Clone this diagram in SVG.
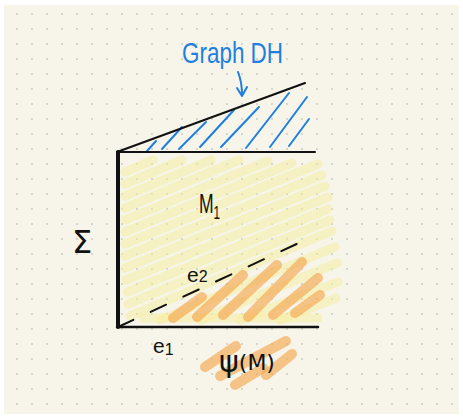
<svg xmlns="http://www.w3.org/2000/svg" width="463" height="418" viewBox="0 0 463 418">
  <defs>
    <pattern id="dots" x="10" y="7" width="15" height="15" patternUnits="userSpaceOnUse">
      <circle cx="7" cy="7" r="0.9" fill="#c8c6bb"/>
    </pattern>
    <style>
      .yel { stroke: #f6ee9c; stroke-opacity: 0.5; stroke-width: 9; stroke-linecap: round; fill: none; }
      .org { stroke: #f5a850; stroke-opacity: 0.65; stroke-width: 10; stroke-linecap: round; fill: none; }
      .blue { stroke: #1e7fe0; stroke-width: 2; stroke-linecap: round; fill: none; }
      .ink { stroke: #111; stroke-linecap: round; fill: none; }
      .txt { font-family: "Liberation Sans", "DejaVu Sans", sans-serif; fill: #111; }
      .gr { font-family: "DejaVu Sans", "Liberation Sans", sans-serif; fill: #111; }
    </style>
  </defs>

  <rect x="0" y="0" width="463" height="418" fill="#ffffff"/>
  <rect x="4" y="5" width="455" height="409" fill="#f7f5e9"/>
  <rect x="4" y="5" width="455" height="409" fill="url(#dots)"/>

  <g id="m1-region">
    <line class="yel" x1="125" y1="172" x2="153" y2="160"/>
    <line class="yel" x1="125" y1="184" x2="182" y2="160"/>
    <line class="yel" x1="125" y1="196" x2="211" y2="160"/>
    <line class="yel" x1="125" y1="208" x2="239" y2="160"/>
    <line class="yel" x1="125" y1="220" x2="268" y2="161"/>
    <line class="yel" x1="125" y1="232" x2="292" y2="163"/>
    <line class="yel" x1="125" y1="244" x2="318" y2="164"/>
    <line class="yel" x1="125" y1="256" x2="322" y2="175"/>
    <line class="yel" x1="125" y1="268" x2="325" y2="186"/>
    <line class="yel" x1="126" y1="280" x2="328" y2="197"/>
    <line class="yel" x1="127" y1="292" x2="328" y2="209"/>
    <line class="yel" x1="128" y1="304" x2="330" y2="220"/>
    <line class="yel" x1="130" y1="316" x2="332" y2="231"/>
    <line class="yel" x1="160" y1="320" x2="335" y2="247"/>
    <line class="yel" x1="200" y1="320" x2="337" y2="263"/>
    <line class="yel" x1="240" y1="320" x2="338" y2="282"/>
    <line class="yel" x1="280" y1="320" x2="336" y2="298"/>
    <line class="yel" x1="143" y1="318" x2="318" y2="318"/>
  </g>

  <g id="psi-region-upper">
    <line class="org" x1="173" y1="318" x2="202" y2="297"/>
    <line class="org" x1="197" y1="317" x2="243" y2="275"/>
    <line class="org" x1="223" y1="315" x2="277" y2="265"/>
    <line class="org" x1="248" y1="317" x2="302" y2="262"/>
    <line class="org" x1="273" y1="315" x2="318" y2="278"/>
    <line class="org" x1="295" y1="313" x2="320" y2="295"/>
  </g>

  <g id="graph-dh-region">
    <line class="blue" x1="147" y1="151" x2="156" y2="141"/>
    <line class="blue" x1="162" y1="149" x2="182" y2="127"/>
    <line class="blue" x1="179" y1="149" x2="206" y2="122"/>
    <line class="blue" x1="200" y1="147" x2="234" y2="110"/>
    <line class="blue" x1="221" y1="147" x2="259" y2="107"/>
    <line class="blue" x1="246" y1="148" x2="289" y2="93"/>
    <line class="blue" x1="270" y1="147" x2="307" y2="97"/>
    <line class="blue" x1="289" y1="146" x2="309" y2="119"/>
  </g>

  <g id="surface">
    <line class="ink" x1="117" y1="152" x2="305" y2="83" stroke-width="2"/>
    <line class="ink" x1="117" y1="152" x2="315" y2="152" stroke-width="2"/>
    <line class="ink" x1="117" y1="327" x2="318" y2="327" stroke-width="2.5"/>
    <line class="ink" x1="118" y1="152" x2="118" y2="327" stroke-width="4" stroke-linecap="square"/>
    <line class="ink" x1="118" y1="327" x2="301" y2="242" stroke-width="2" stroke-dasharray="17 19"/>
  </g>

  <g id="psi-region-lower">
    <line class="org" x1="205" y1="367" x2="236" y2="346"/>
    <line class="org" x1="220" y1="376" x2="286" y2="341"/>
    <line class="org" x1="235" y1="385" x2="263" y2="368"/>
    <line class="org" x1="266" y1="375" x2="292" y2="354"/>
  </g>

  <g id="label-graph-dh">
    <text x="182" y="63" font-family="Liberation Sans, sans-serif" font-size="30" fill="#1e7fe0" textLength="101" lengthAdjust="spacingAndGlyphs">Graph DH</text>
  </g>

  <g id="connectors">
    <path class="blue" d="M238 72 Q242 82 242 95" stroke-width="1.5"/>
    <path class="blue" d="M237 88 L242 96 L247 87" stroke-width="1.5" stroke-linejoin="round"/>
  </g>

  <g id="label-m1">
    <text class="txt" transform="translate(199,213) scale(0.65,1)" font-size="27">M<tspan font-size="18" dy="6">1</tspan></text>
  </g>

  <g id="label-sigma">
    <text class="gr" x="72" y="253" font-size="32">Σ</text>
  </g>

  <g id="label-e2">
    <text class="txt" x="187" y="282" font-size="21">e<tspan font-size="16">2</tspan></text>
  </g>

  <g id="label-e1">
    <text class="txt" x="153" y="353" font-size="21">e<tspan font-size="16" dy="2">1</tspan></text>
  </g>

  <g id="label-psi">
    <text class="gr" x="219" y="372"><tspan font-size="30">ψ</tspan><tspan font-size="22" dy="-2">(M)</tspan></text>
  </g>
</svg>
